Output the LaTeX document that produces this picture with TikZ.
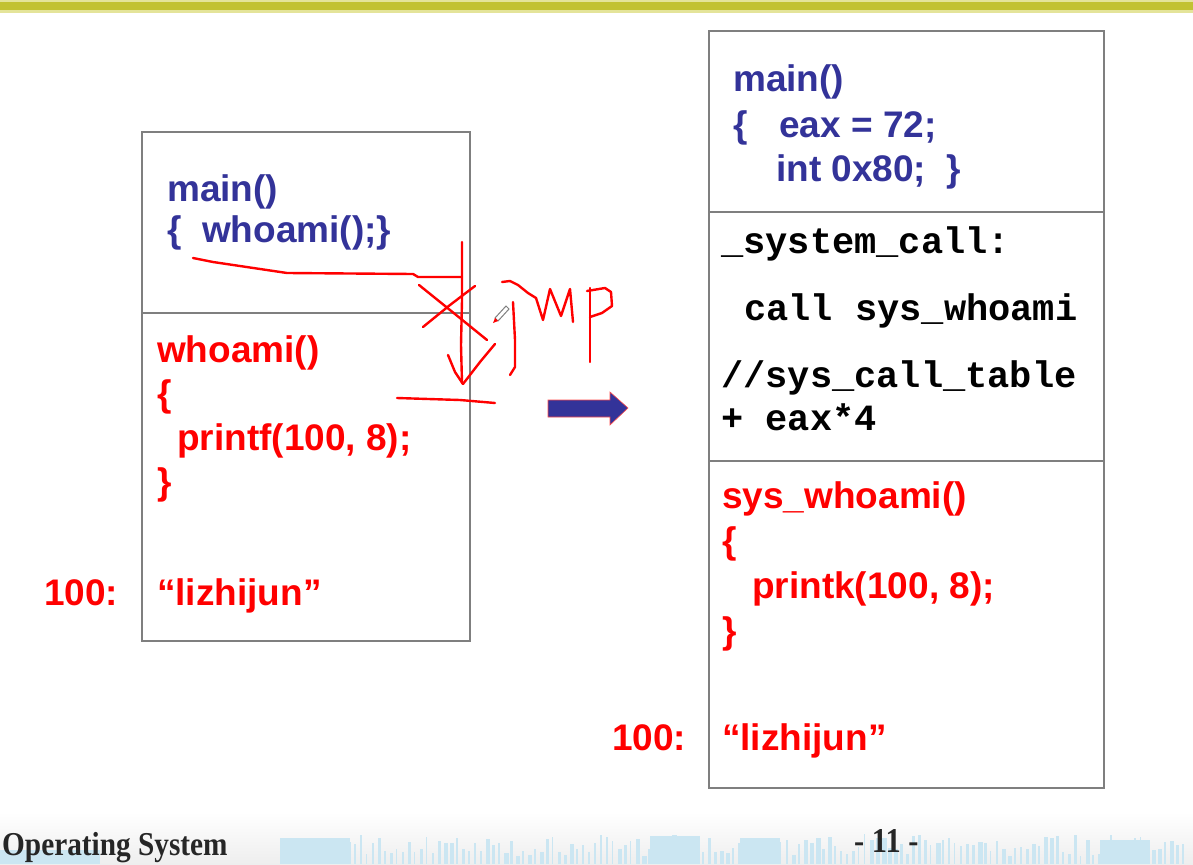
\documentclass[tikz,border=0pt]{standalone}
\usepackage{fontspec}
\setmainfont{Liberation Sans}
\newfontfamily\monofont{Liberation Mono}
\newfontfamily\serifont{Liberation Serif}
\definecolor{codeblue}{HTML}{333399}
\definecolor{codered}{HTML}{FF0000}
\definecolor{boxgray}{HTML}{7F7F7F}
\definecolor{bandolive}{HTML}{C2C232}
\definecolor{bandlight}{HTML}{E4E49A}
\definecolor{wave}{HTML}{CBE6F2}
\definecolor{footgray}{HTML}{EEEEEE}
\begin{document}
\begin{tikzpicture}[x=1pt,y=-1pt,
  bluetxt/.style={anchor=base west, inner sep=0pt, text=codeblue, font=\fontsize{37}{37}\selectfont\bfseries},
  redtxt/.style={anchor=base west, inner sep=0pt, text=codered, font=\fontsize{37}{37}\selectfont\bfseries},
  montxt/.style={anchor=base west, inner sep=0pt, text=black, font=\fontsize{37}{37}\selectfont\monofont\bfseries},
  memframe/.style={draw=boxgray, line width=1.5pt},
  ink/.style={draw=codered, line width=2.4pt, line cap=round, line join=round},
  foottxt/.style={anchor=base west, inner sep=0pt, text=black!85, font=\fontsize{29}{29}\selectfont\serifont\bfseries},
]
\useasboundingbox (0,0) rectangle (1193,864);
\fill[white] (0,0) rectangle (1193,864);

% top band
\fill[bandlight] (0,0.5) rectangle (1193,13);
\fill[bandolive] (0,2.5) rectangle (1193,10.5);

% footer
\shade[top color=white, bottom color=footgray] (0,812) rectangle (1193,864);
\pgfmathsetseed{11}
\foreach \i in {0,...,150} {
  \pgfmathsetmacro{\xx}{282+\i*6}
  \pgfmathsetmacro{\hh}{8+rnd*22}
  \pgfmathsetmacro{\ww}{1+rnd*4}
  \fill[wave] (\xx,864-\hh) rectangle (\xx+\ww,864);
}
\fill[wave] (280,838) rectangle (350,864);
\fill[wave] (650,836) rectangle (700,864);
\fill[wave] (740,838) rectangle (780,864);
\fill[wave] (1100,840) rectangle (1150,864);
\fill[wave] (0,850) rectangle (100,864);
\node[foottxt] (foot) at (2,855) {\scalebox{1.01}[1.15]{Operating System}};
\node[foottxt] (page) at (854,852) {\scalebox{1.05}[1.2]{- 11 -}};

% left memory box
\draw[memframe] (142,132) rectangle (470,641);
\draw[memframe] (142,313) -- (470,313);
% right memory box
\draw[memframe] (709,31) rectangle (1104,788);
\draw[memframe] (709,212) -- (1104,212);
\draw[memframe] (709,461) -- (1104,461);

% left texts
\node[bluetxt] (lmain) at (167,201) {main()};
\node[bluetxt] (lcall) at (167,242) {\{\ \ whoami();\}};
\node[redtxt] (lwho) at (157,362) {whoami()};
\node[redtxt] (lob) at (157,406) {\{};
\node[redtxt] (lpr) at (177,450) {printf(100, 8);};
\node[redtxt] (lcb) at (157,494) {\}};
\node[redtxt] (lstr) at (157,605) {“lizhijun”};
\node[redtxt] (laddr) at (44,605) {100:};

% right texts
\node[bluetxt] (rmain) at (733,92) {main()};
\node[bluetxt] (rob) at (733,137) {\{};
\node[bluetxt] (reax) at (779,137) {eax = 72;};
\node[bluetxt] (rint) at (776,181) {int 0x80;\ \ \}};
\node[montxt] (sc) at (721,253) {\_system\_call:};
\node[montxt] (cw) at (744,320) {call sys\_whoami};
\node[montxt] (tb) at (721,387) {//sys\_call\_table};
\node[montxt] (ex) at (721,430) {+ eax*4};
\node[redtxt] (swho) at (722,508) {sys\_whoami()};
\node[redtxt] (rob2) at (722,553) {\{};
\node[redtxt] (rpk) at (752,598) {printk(100, 8);};
\node[redtxt] (rcb) at (722,643) {\}};
\node[redtxt] (rstr) at (722,750) {“lizhijun”};
\node[redtxt] (raddr) at (612,750) {100:};

% block arrow
\filldraw[fill=codeblue, draw=codered!70, line width=0.6pt]
  (548,400) -- (610,400) -- (610,392) -- (628,408) -- (610,425) -- (610,417) -- (548,417) -- cycle;

% handwritten annotations
\draw[ink] (193,258) -- (213,262) -- (287,273) -- (413,274) -- (418,277) -- (462,277);
\draw[ink] (462,242) -- (462,300) -- (461,345) -- (462,383);
\draw[ink] (448,355) -- (455,372) -- (463,384);
\draw[ink] (463,384) -- (480,362) -- (495,344);
\draw[ink] (419,285) -- (450,310) -- (487,340);
\draw[ink] (475,286) -- (450,305) -- (423,327);
% J
\draw[ink] (513,302) -- (515,340) -- (515,367) -- (510,375);
% M
\draw[ink] (502,282) -- (510,281) -- (518,285) -- (528,293) -- (536,298) -- (543,320) -- (550,289) -- (561,316) -- (570,289) -- (573,322);
% P
\draw[ink] (590,288) -- (590,320) -- (590,362);
\draw[ink] (587,291) -- (605,288) -- (611,292) -- (612,306) -- (602,313) -- (590,317);
% bottom stroke
\draw[ink] (397,398) -- (460,400) -- (495,403);
% pen cursor
\draw[gray, line width=1pt] (495,318) -- (506,306) -- (509,309) -- (498,321) -- cycle;
\fill[codered] (493,323) -- (495,318) -- (498,321) -- cycle;
\end{tikzpicture}
\end{document}
